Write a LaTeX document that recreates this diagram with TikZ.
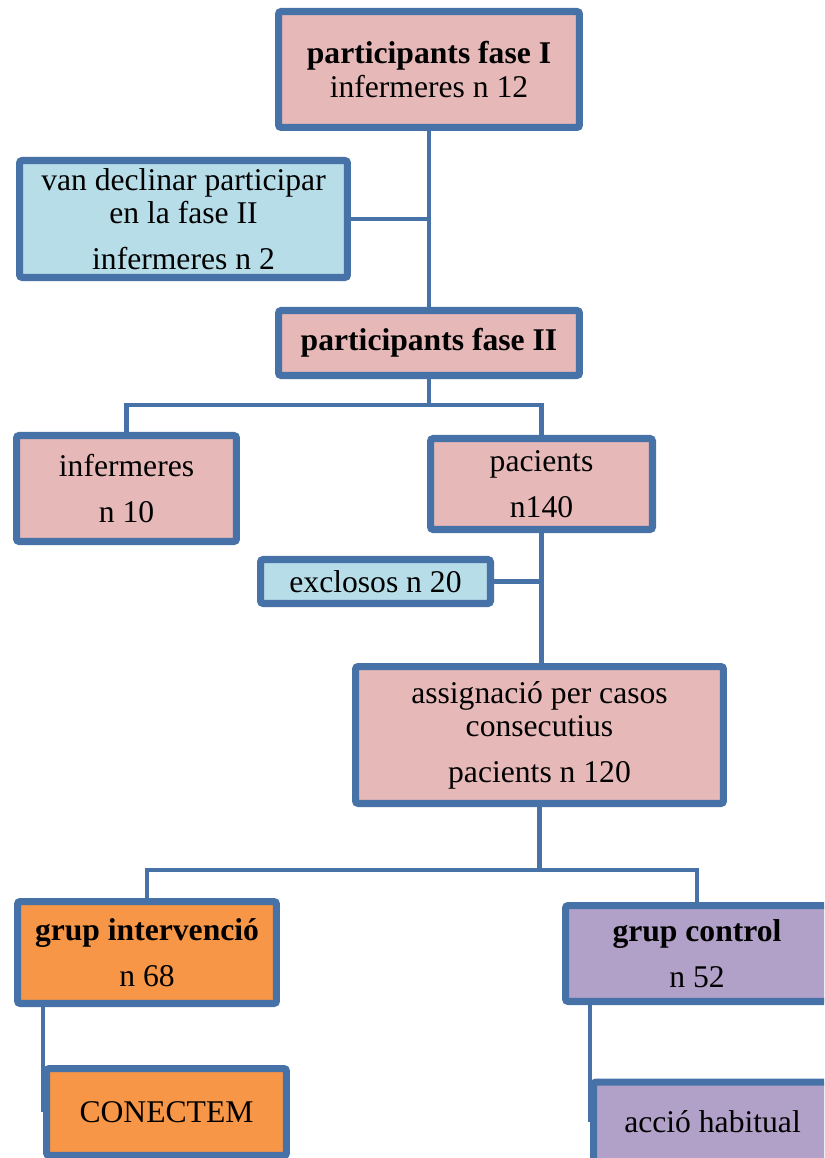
\documentclass[tikz,border=0pt]{standalone}
\usepackage{fontspec}
\setmainfont{Liberation Serif}
\usetikzlibrary{shadows}
\definecolor{vora}{HTML}{4672A8}
\definecolor{rosa}{HTML}{E6B9B8}
\definecolor{blau}{HTML}{B7DDE8}
\definecolor{taronja}{HTML}{F79646}
\definecolor{lila}{HTML}{B1A0C7}
\tikzset{
	caixa/.style={draw=vora, line width=4pt, rounded corners=1.5pt, align=center, inner sep=0pt,
		drop shadow={shadow xshift=1.5pt, shadow yshift=-1.5pt, opacity=0.3},
		font=\fontsize{18}{19}\selectfont},
	linia/.style={draw=vora, line width=2.4pt}
}
\begin{document}
\begin{tikzpicture}[x=0.02cm, y=-0.02cm]
		\useasboundingbox (0,0) rectangle (824,1158);
		\clip (0,0) rectangle (824,1158);
		% fase I and the nurses who left
		\node[caixa, fill=rosa, minimum width=6.02cm, minimum height=2.32cm] (fasei) at (429,69.5)
			{\textbf{participants fase I}\\infermeres n 12};
		\node[caixa, fill=blau, minimum width=6.56cm, minimum height=2.34cm] (declinar) at (183.5,219)
			{van declinar participar\\en la fase II\\[7pt]infermeres n 2};
		\node[caixa, fill=rosa, minimum width=6.02cm, minimum height=1.30cm] (faseii) at (429,343)
			{\textbf{participants fase II}};
		% nurses and patients
		\node[caixa, fill=rosa, minimum width=4.40cm, minimum height=2.12cm] (inf) at (126.5,488.5)
			{infermeres\\[7pt]n 10};
		\node[caixa, fill=rosa, minimum width=4.44cm, minimum height=1.82cm] (pac) at (541.5,484)
			{pacients\\[7pt]n140};
		\node[caixa, fill=blau, minimum width=4.60cm, minimum height=0.88cm] (excl) at (375.5,581.5)
			{exclosos n 20};
		\node[caixa, fill=rosa, minimum width=7.36cm, minimum height=2.74cm] (assig) at (539.5,735)
			{assignació per casos\\consecutius\\[7pt]pacients n 120};
		% the two groups
		\node[caixa, fill=taronja, minimum width=5.18cm, minimum height=2.04cm] (interv) at (147,952.5)
			{\textbf{grup intervenció}\\[7pt]n 68};
		\node[caixa, fill=lila, minimum width=5.26cm, minimum height=1.92cm] (control) at (697,953.5)
			{\textbf{grup control}\\[7pt]n 52};
		\node[caixa, fill=taronja, minimum width=4.80cm, minimum height=1.74cm] (conectem) at (166.5,1112)
			{CONECTEM};
		\node[caixa, fill=lila, minimum width=4.76cm, minimum height=1.60cm] (habitual) at (712.5,1122)
			{acció habitual};
		% branch points
		\coordinate (nus2) at (429,405);
		\coordinate (nus3) at (541,870);
		% connectors
		\draw[linia] (fasei.south) -- (faseii.north);
		\draw[linia] (declinar.east) -- (declinar.east -| fasei.south);
		\draw[linia] (faseii.south) -- (nus2);
		\draw[linia] (inf.north) |- (nus2) -| (pac.north);
		\draw[linia] (pac.south) -- (pac.south |- assig.north);
		\draw[linia] (excl.east) -- (excl.east -| pac.south);
		\draw[linia] (assig.south) -- (assig.south |- nus3);
		\draw[linia] (interv.north) |- (nus3) -| (control.north);
		\draw[linia] (interv.south -| conectem.west) -- (conectem.west);
		\draw[linia] (control.south -| habitual.west) -- (habitual.west);
	\end{tikzpicture}
\end{document}
